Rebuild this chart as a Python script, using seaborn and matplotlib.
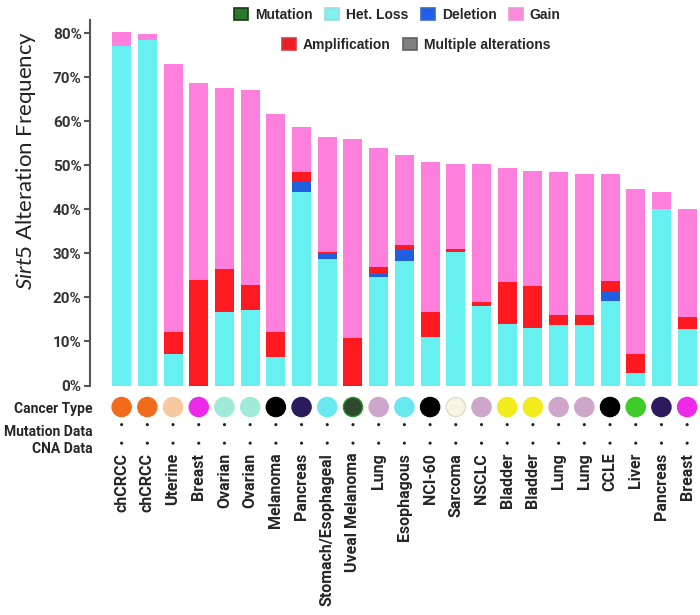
import pandas as pd
import seaborn as sns
import matplotlib.pyplot as plt
from matplotlib.patches import Patch

# data (percent)
cancer = ["chCRCC", "chCRCC", "Uterine", "Breast", "Ovarian", "Ovarian", "Melanoma",
          "Pancreas", "Stomach/Esophageal", "Uveal Melanoma", "Lung", "Esophagous",
          "NCI-60", "Sarcoma", "NSCLC", "Bladder", "Bladder", "Lung", "Lung", "CCLE",
          "Liver", "Pancreas", "Breast"]
het_loss = [77.2, 78.5, 7.1, 0.0, 16.6, 17.1, 6.5, 43.9, 28.7, 0.0, 24.6, 28.2,
            11.1, 30.3, 18.1, 14.0, 13.1, 13.7, 13.7, 19.3, 2.9, 40.1, 12.8]
deletion = [0, 0, 0, 0, 0, 0, 0, 2.6, 1.3, 0, 0.7, 2.6,
            0, 0, 0, 0, 0, 0, 0, 2.2, 0, 0, 0]
amplification = [0, 0, 5.1, 24.0, 9.9, 5.7, 5.7, 1.9, 0.4, 10.9, 1.5, 1.0,
                 5.5, 0.8, 0.9, 9.4, 9.4, 2.2, 2.2, 2.2, 4.2, 0, 2.8]
gain = [3.0, 1.4, 60.9, 44.8, 41.1, 44.4, 49.5, 10.2, 26.0, 45.1, 27.1, 20.6,
        34.1, 19.2, 31.2, 26.0, 26.1, 32.5, 32.1, 24.3, 37.5, 3.9, 24.4]
type_colors = ["#F26B1D", "#F26B1D", "#F8C8A0", "#EE2AEA", "#A0EBD8", "#A0EBD8",
               "#000000", "#2B1A5C", "#6AE8F0", "#2E4A2E", "#CFA6CB", "#6AE8F0",
               "#000000", "#F7F6E4", "#CFA6CB", "#F2EC1E", "#F2EC1E", "#CFA6CB",
               "#CFA6CB", "#000000", "#3FCB2A", "#2B1A5C", "#EE2AEA"]
row_labels = ["Cancer Type", "Mutation Data", "CNA Data"]
yticks = [0, 10, 20, 30, 40, 50, 60, 70, 80]

c_het, c_del, c_amp, c_gain = "#66F0F0", "#2060E0", "#FF1A22", "#FF80DC"

df = pd.DataFrame({"pos": range(len(cancer)), "cancer": cancer,
                   "het": het_loss, "del": deletion, "amp": amplification, "gain": gain})
df["c1"] = df["het"]
df["c2"] = df["c1"] + df["del"]
df["c3"] = df["c2"] + df["amp"]
df["c4"] = df["c3"] + df["gain"]

sns.set_theme(style="white")
plt.rcParams["font.family"] = ["Lato", "DejaVu Sans"]
plt.rcParams["mathtext.fontset"] = "custom"
plt.rcParams["mathtext.it"] = "Lato:italic"
plt.rcParams["mathtext.rm"] = "Lato"
bold_font = ["Roboto", "DejaVu Sans"]

fig = plt.figure(figsize=(7, 6.15), dpi=100)
ax = fig.add_axes([90 / 700, 1 - 385.5 / 615, 610 / 700, 365.5 / 615])

# stacked bars: draw cumulative totals, tallest first
for col, color in [("c4", c_gain), ("c3", c_amp), ("c2", c_del), ("c1", c_het)]:
    sns.barplot(data=df, x="pos", y=col, color=color, saturation=1, width=0.74,
                linewidth=0, ax=ax)

ax.set_xlim(-1.23, 22.5)
ax.set_ylim(0, 83)
ax.set_yticks(yticks)
ax.set_yticklabels([f"{t}%" for t in yticks], fontsize=11, fontweight="bold",
                   color="#333333", family=bold_font)
ax.set_xticks([])
ax.set_xlabel("")
ax.set_ylabel(r"$\it{Sirt5}$ Alteration Frequency", fontsize=16, color="#222222")
ax.yaxis.set_label_coords(-0.085, 0.615)
for s in ["top", "right", "bottom"]:
    ax.spines[s].set_visible(False)
ax.spines["left"].set_color("#555555")
ax.spines["left"].set_linewidth(1.5)
ax.tick_params(axis="y", left=True, length=4, width=1.5, color="#555555", pad=2)

# annotation rows below the bars
ax2 = fig.add_axes([90 / 700, 1 - 450 / 615, 610 / 700, 55 / 615])
sns.scatterplot(x=df["pos"], y=[0] * len(df), hue=df["pos"],
                palette=dict(zip(df["pos"], type_colors)), s=190, legend=False,
                edgecolor=["#2F8F2F" if c == "#2E4A2E" else ("#DDDDCC" if c == "#F7F6E4" else c)
                           for c in type_colors], linewidth=1, ax=ax2)
for r in [0.95, 1.95]:
    sns.scatterplot(x=df["pos"], y=[r] * len(df), color="#222222", s=5,
                    edgecolor="none", legend=False, ax=ax2)
ax2.set_xlim(-1.23, 22.5)
ax2.set_ylim(2.32, -0.65)
ax2.set_yticks([0, 1.25, 2.2])
ax2.set_yticklabels(row_labels, fontsize=10, fontweight="bold", family=bold_font)
ax2.set_xticks(df["pos"])
ax2.set_xticklabels(cancer, rotation=90, fontsize=11.5, fontweight="bold", va="top",
                    family=bold_font)
ax2.tick_params(axis="x", length=0, pad=2)
ax2.tick_params(axis="y", length=0, pad=-2)
ax2.set_xlabel("")
ax2.set_ylabel("")
for s in ax2.spines.values():
    s.set_visible(False)
ax2.patch.set_alpha(0)

# legend (two rows)
def swatch(color, edge):
    return Patch(facecolor=color, edgecolor=edge, linewidth=1.2)

row1 = [swatch("#2B7A2B", "#1A3A1A"), swatch("#80F0F0", "#9ADCDC"),
        swatch("#1F5FE8", "#3A6AC8"), swatch("#FF88DD", "#E89ACF")]
row2 = [swatch("#EE1C24", "#D04040"), swatch("#808080", "#606060")]
leg_kw = dict(frameon=False, handlelength=1.0, handleheight=1.0, handletextpad=0.5,
              columnspacing=0.9, loc="center",
              prop={"family": "Liberation Sans", "weight": "bold", "size": 10})
leg1 = fig.legend(row1, ["Mutation", "Het. Loss", "Deletion", "Gain"], ncol=4,
                  bbox_to_anchor=(397.5 / 700, 1 - 15 / 615), **leg_kw)
leg2 = fig.legend(row2, ["Amplification", "Multiple alterations"], ncol=2,
                  bbox_to_anchor=(416 / 700, 1 - 45 / 615), **leg_kw)

fig.savefig("out.png", dpi=100)
